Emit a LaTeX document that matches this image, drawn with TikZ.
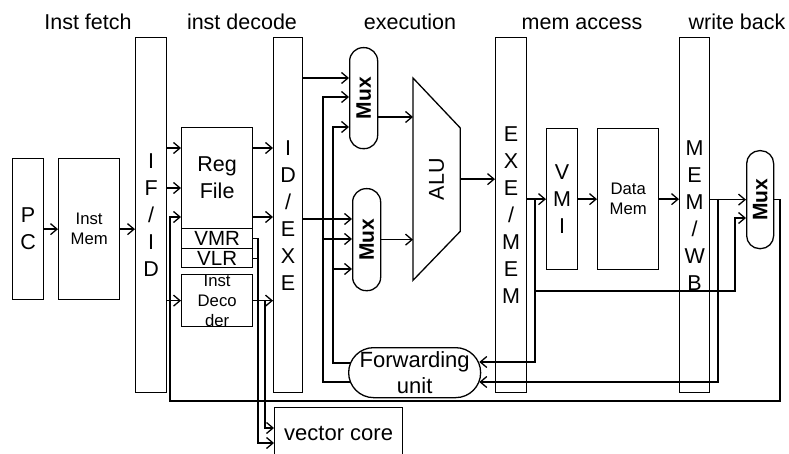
\documentclass[tikz,border=0pt]{standalone}
\usepackage{fontspec}
\usepackage{graphicx}
\setmainfont{Liberation Sans}
\usetikzlibrary{arrows.meta,calc}
\begin{document}
\begin{tikzpicture}[x=1pt,y=-1pt,line width=1.3pt,
  >={Straight Barb[length=6.5pt,width=11pt]},
  box/.style={draw,inner sep=0pt,anchor=north west,align=center},
  big/.style={font=\fontsize{21.5}{27}\selectfont},
  small/.style={font=\fontsize{16.7}{20}\selectfont},
  reg/.style={font=\fontsize{20.5}{24}\selectfont},
  muxbox/.style={draw,inner sep=0pt,anchor=north west,rounded corners=13.4pt,font=\bfseries\fontsize{21}{25}\selectfont},
  hdr/.style={anchor=base,font=\fontsize{21.5}{27}\selectfont}]
\useasboundingbox (0,0) rectangle (789,454);
\clip (0,0) rectangle (789,454);
% headers
\node[hdr] (h1) at (88,30) {Inst fetch};
\node[hdr] (h2) at (242,30) {inst decode};
\node[hdr] (h3) at (410,30) {execution};
\node[hdr] (h4) at (582,30) {mem access};
\node[hdr] (h5) at (737,30) {write back};
% boxes
\node[box,big,minimum width=31pt,minimum height=141pt] (pc) at (12,158) {P\\C};
\node[box,small,minimum width=61pt,minimum height=141pt] (imem) at (58,158) {Inst\\Mem};
\node[box,big,minimum width=31pt,minimum height=355pt] (ifid) at (135,37) {I\\F\\/\\I\\D};
\node[box,big,minimum width=71pt,minimum height=101pt] (regfile) at (181,127) {Reg\\File};
\node[box,reg,minimum width=71pt,minimum height=20pt] (vmr) at (181,228) {VMR};
\node[box,reg,minimum width=71pt,minimum height=19pt] (vlr) at (181,248) {VLR};
\node[box,small,minimum width=71pt,minimum height=52pt] (instdec) at (181,274) {Inst\\Deco\\der};
\node[box,big,minimum width=29pt,minimum height=355pt] (idexe) at (273,37) {I\\D\\/\\E\\X\\E};
\node[muxbox,minimum width=28pt,minimum height=101pt] (mux1) at (349,47) {\rotatebox{90}{Mux}};
\node[muxbox,minimum width=28pt,minimum height=102pt] (mux2) at (352,188) {\rotatebox{90}{Mux}};
\node[inner sep=0pt,anchor=north west,minimum width=46pt,minimum height=201pt,big] (alu) at (413,78) {\rotatebox{90}{ALU}};
\draw (alu.north west) -- ([yshift=-50pt]alu.north east) -- ([yshift=49pt]alu.south east) -- (alu.south west) -- cycle;
\node[box,big,minimum width=31pt,minimum height=355pt] (exmem) at (495,37) {E\\X\\E\\/\\M\\E\\M};
\node[box,big,minimum width=31pt,minimum height=141pt] (vmi) at (546,128) {V\\M\\I};
\node[box,small,minimum width=61pt,minimum height=141pt] (dmem) at (597,128) {Data\\Mem};
\node[box,big,minimum width=30pt,minimum height=355pt] (memwb) at (679,37) {M\\E\\M\\/\\W\\B};
\node[muxbox,minimum width=27pt,minimum height=98pt,rounded corners=13pt] (wbmux) at (746,150) {\rotatebox{90}{Mux}};
\node[box,minimum width=132pt,minimum height=50pt,rounded corners=25pt,font=\fontsize{22}{26}\selectfont] (fwd) at (348,347) {Forwarding\\unit};
\node[box,font=\fontsize{22}{27}\selectfont,minimum width=128pt,minimum height=52pt] (vcore) at (274,407) {vector core};
% branch points
\coordinate (bA) at (535,198.5);
\coordinate (bB) at (535,291);
\coordinate (bC) at (718,199);
\coordinate (bD) at (333,269);
\coordinate (bE) at (323,239);
% connectors
\draw[->] (pc.east) -- (imem.west);
\draw[->] (imem.east) -- (ifid.west |- imem.east);
\draw[->] (ifid.east |- 0,148) -- (regfile.west |- 0,148);
\draw[->] (ifid.east |- 0,188) -- (regfile.west |- 0,188);
\draw[->] (ifid.east |- instdec.west) -- (instdec.west);
\draw[->] (regfile.east |- 0,148) -- (idexe.west |- 0,148);
\draw[->] (regfile.east |- 0,217) -- (idexe.west |- 0,217);
\draw[->] (instdec.east) -- (idexe.west |- instdec.east);
\draw[->] (vmr.east) -| (258,443) -- (vcore.west |- 0,443);
\draw (vlr.east) -- (vlr.east -| 258,0);
\draw[->] (instdec.east -| 265,0) |- (vcore.west |- 0,428);
\draw[->] (idexe.east |- 0,78) -- (mux1.west |- 0,78);
\draw[->] (idexe.east |- 0,219) -- (mux2.west |- 0,219);
\draw[->] ([xshift=2pt]fwd.west |- 0,363) -| (333,127) -- (mux1.west |- 0,127);
\draw[->] (bD) -- (mux2.west |- bD);
\draw[->] ([xshift=2pt]fwd.west |- 0,382) -| (323,97) -- (mux1.west |- 0,97);
\draw[->] (bE) -- (mux2.west |- bE);
\draw[->] (mux1.east |- 0,117) -- (alu.west |- 0,117);
\draw[->] (mux2.east) -- (alu.west |- mux2.east);
\draw[->] (alu.east) -- (exmem.west |- alu.east);
\draw[->] (exmem.east |- vmi.west) -- (vmi.west);
\draw[->] (vmi.east) -- (dmem.west);
\draw[->] (dmem.east) -- (memwb.west |- dmem.east);
\draw[->] (memwb.east |- wbmux.west) -- (wbmux.west);
\draw[->] (bA) |- ([xshift=-2pt]fwd.east |- 0,362);
\draw[->] (bB) -| (735,218) -- (wbmux.west |- 0,218);
\draw[->] (bC) |- ([xshift=-2pt]fwd.east |- 0,382);
\draw[->] (wbmux.east) -| (780,401) -| (170,217) -- (regfile.west |- 0,217);
\end{tikzpicture}
\end{document}
